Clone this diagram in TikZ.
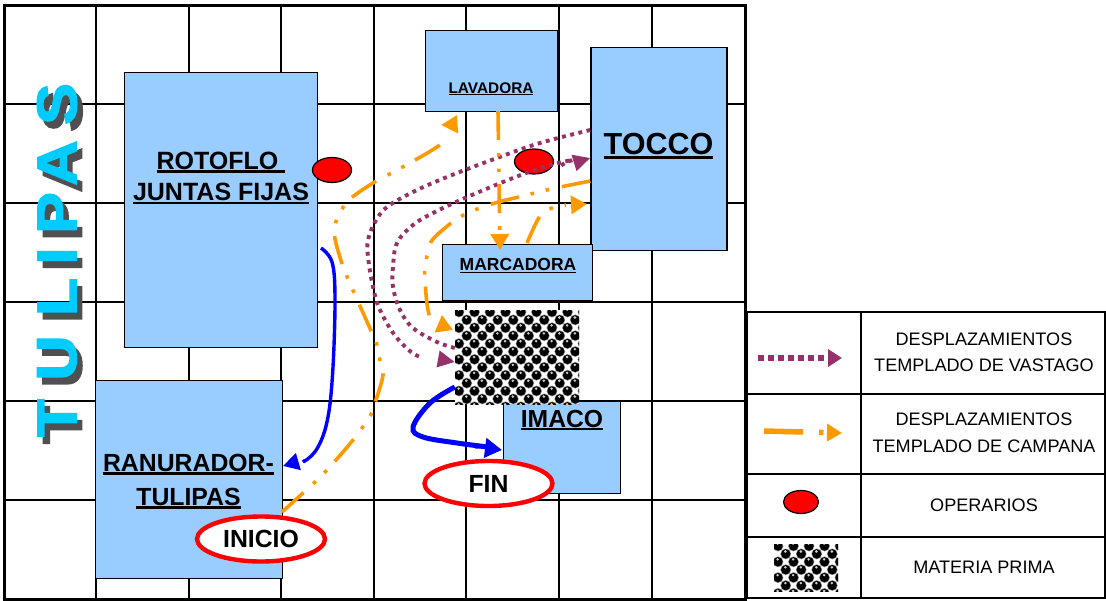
\documentclass[tikz,border=0pt]{standalone}
\usepackage{fontspec}
\setmainfont{Liberation Sans}
\newfontfamily\tulifont[FakeBold=2.6,FakeStretch=1.12]{Liberation Sans Bold}
\usetikzlibrary{arrows.meta,shapes.geometric,bending}
\definecolor{machine}{RGB}{153,204,255}
\definecolor{vastago}{RGB}{150,50,105}
\definecolor{campana}{RGB}{255,153,0}
\definecolor{tulipa}{RGB}{0,204,255}
\definecolor{tulishadow}{RGB}{80,80,80}
\tikzset{
  gridline/.style={line width=2.8pt,black},
  legendline/.style={line width=2.8pt,black},
  machinebox/.style={draw=black,line width=1.4pt,fill=machine,inner sep=0pt,anchor=north west},
  machinelabel/.style={font=\bfseries\fontsize{#1}{#1}\selectfont,align=center,text=black,inner sep=0pt},
  vastagopath/.style={draw=vastago,line width=3.9pt,dash pattern=on 3.9pt off 4.5pt},
  vastagotip/.style={-{Triangle[length=17pt,width=16pt,fill=vastago]}},
  campanapath/.style={draw=campana,line width=3.6pt,dash pattern=on 29pt off 13pt on 3.6pt off 12pt on 3.6pt off 12pt},
  campanatip/.style={-{Triangle[length=16pt,width=18pt,fill=campana]}},
  bluepath/.style={draw=blue,line cap=butt},
  operario/.style={ellipse,draw=black,line width=1.2pt,fill=red,minimum width=39pt,minimum height=25pt,inner sep=0pt},
  milestone/.style={ellipse,draw=red,line width=4.4pt,fill=white,minimum width=128pt,minimum height=45pt,inner sep=0pt,font=\bfseries\fontsize{24.8}{24.8}\selectfont},
  legendtext/.style={font=\fontsize{18.1}{26.5}\selectfont,align=center,inner sep=0pt},
  tuli/.style={font=\tulifont\fontsize{56}{56}\selectfont,inner sep=0pt,rotate=90,anchor=center},
}
\newcommand{\ulab}[1]{\setbox0\hbox{#1}\leavevmode\rlap{\rule[-0.13em]{\wd0}{0.1em}}\box0}
\newcommand{\balltex}[4]{% x0,y0,x1,y1
  \fill[white] (#1,#2) rectangle (#3,#4);
  \begin{scope}
    \clip (#1,#2) rectangle (#3,#4);
    \foreach \i in {0,...,8}{
      \foreach \j in {0,...,6}{
        \pgfmathsetmacro{\xx}{#1+4+\i*15.5}
        \pgfmathsetmacro{\yy}{#2+2+\j*15.8}
        \foreach \dx/\dy in {0/0,7.75/7.9}{
          \fill[white!55!black] (\xx+\dx,\yy+\dy) circle (5.4pt);
          \fill[black] (\xx+\dx,\yy+\dy) circle (4.7pt);
          \fill[white!80!black] (\xx+\dx-0.4,\yy+\dy-2.4) circle (1.4pt);
        }
      }
    }
  \end{scope}
}
\begin{document}
\begin{tikzpicture}[x=1pt,y=-1pt]
\useasboundingbox (0,0) rectangle (1106,600);
\fill[white] (0,0) rectangle (1106,600);
% grid
\foreach \gx in {96,189,281,374,466,559,652}{\draw[gridline] (\gx,5) -- (\gx,599);}
\foreach \gy in {104,203,302,401,500}{\draw[gridline] (4,\gy) -- (745,\gy);}
\draw[line width=3pt] (4,5) rectangle (745,599);
% tulipas title
\foreach \txt/\yp in {S/104,A/163,P/213,I/256,L/297,U/358,T/418}{
  \node[tuli,text=tulishadow] at (62.5,\yp+7) {\txt};
  \node[tuli,text=tulipa] at (57,\yp) {\txt};
}
% machines
\node[machinebox,minimum width=193pt,minimum height=275pt] (rotoflo) at (124,71.7) {};
\node[machinelabel=25] (rotoflolab) at (221,178) {\ulab{ROTOFLO }\\[6.5pt]\ulab{JUNTAS FIJAS}};
\node[machinebox,minimum width=187pt,minimum height=198pt] (ranurador) at (94.5,380) {};
\node[machinelabel=24.8] (ranlab) at (188.5,481.5) {\ulab{RANURADOR-}\\[9.5pt]\ulab{TULIPAS}};
\node[machinebox,minimum width=132pt,minimum height=81pt] (lavadora) at (424.5,29.5) {};
\node[machinelabel=15.4] (lavlab) at (491,89) {\ulab{LAVADORA}};
\node[machinebox,minimum width=136pt,minimum height=203pt] (tocco) at (590.3,46.5) {};
\node[machinelabel=30.5] (toccolab) at (658.5,146) {\ulab{TOCCO}};
\node[machinebox,minimum width=150pt,minimum height=56pt] (marcadora) at (442,244) {};
\node[machinelabel=17.5] (marclab) at (518,266) {\ulab{MARCADORA}};
\node[machinebox,minimum width=117pt,minimum height=92pt] (imaco) at (502.5,400.5) {};
\node[machinelabel=24.7] (imalab) at (562,420) {\ulab{IMACO}};
% raw material
\balltex{455}{310}{579}{404}
\node[minimum width=124pt,minimum height=94pt,inner sep=0pt] (rawmat) at (517,357) {};
% operators
\node[operario] (op1) at (332,170) {};
\node[operario] (op2) at (534,161.5) {};
% named ends
\coordinate (tocA) at (tocco.west |- 0,130);
\coordinate (tocB) at (tocco.west |- 0,158);
\coordinate (tocC) at (tocco.west |- 0,181);
\coordinate (matA) at (rawmat.west |- 0,362);
\coordinate (matB) at (rawmat.west |- 0,348);
\coordinate (matC) at (453,330);
\coordinate (matD) at (rawmat.west |- 0,387);
\coordinate (ranA) at (282,512);
\coordinate (ranB) at (283,466);
\coordinate (lavA) at (457,115);
\coordinate (lavB) at (498,111);
\coordinate (marA) at (500,250);
\coordinate (marB) at (527,243);
\coordinate (tocD) at (587,204);
\coordinate (rotA) at (321,248);
\coordinate (imaA) at (502,450);
% vastago paths
\draw[vastagopath,vastagotip] plot[smooth,tension=0.6] coordinates {(tocA) (540,143) (497,158) (447,177) (413,192) (387,207) (375,222) (368,240) (368,257) (373,287) (380,310) (397,338) (420,357) (matA)};
\draw[vastagopath,vastagotip] plot[smooth,tension=0.6] coordinates {(matB) (437,342) (413,328) (400,310) (393,287) (393,267) (397,243) (413,225) (433,213) (465,198) (513,178) (547,166) (577,159) (tocB)};
% campana paths
\draw[campanapath,campanatip] plot[smooth,tension=0.6] coordinates {(ranA) (303,493) (325,472) (353,440) (370,416) (375,403) (383,375) (380,361) (377,345) (372,333) (360,306) (348,279) (343,267) (335,239) (335,225) (341,211) (350,199) (373,183) (399,169) (437,147) (446,137) (lavA)};
\draw[campanapath,campanatip] plot[smooth,tension=0.6] coordinates {(tocC) (551,189) (523,196) (495,203) (467,213) (455,220) (433,239) (428,252) (425,267) (425,281) (428,310) (434,323) (matC)};
\draw[campanapath,campanatip] (lavB) -- (marA);
\draw[campanapath,campanatip] plot[smooth,tension=0.6] coordinates {(marB) (540,216) (552,208) (566,205) (tocD)};
% blue paths
\draw[bluepath,line width=3.4pt,-{Triangle[length=16pt,width=17pt,fill=blue]}] plot[smooth,tension=0.6] coordinates {(rotA) (332,262) (335,297) (333,367) (328,417) (318,447) (303,462) (ranB)};
\draw[bluepath,line width=5pt,-{Triangle[length=17pt,width=19pt,fill=blue]}] plot[smooth,tension=0.6] coordinates {(matD) (430,403) (413,427) (423,437) (457,443) (487,447) (imaA)};
% start end
\node[milestone] (inicio) at (261,539) {INICIO};
\node[milestone] (fin) at (488.5,483.5) {FIN};
% legend
\draw[legendline] (747,312) rectangle (1105,598);
\draw[legendline] (861,312) -- (861,598);
\foreach \ly in {394,474,537}{\draw[legendline] (747,\ly) -- (1105,\ly);}
\node[legendtext] (l1) at (984,352.5) {DESPLAZAMIENTOS\\TEMPLADO DE VASTAGO};
\node[legendtext] (l2) at (984,433) {DESPLAZAMIENTOS\\TEMPLADO DE CAMPANA};
\node[legendtext] (l3) at (984,505) {OPERARIOS};
\node[legendtext] (l4) at (984,567) {MATERIA PRIMA};
\coordinate (lva) at (758,358);\coordinate (lvb) at (842,358);
\draw[draw=vastago,line width=5.5pt,dash pattern=on 6pt off 4pt,-{Triangle[length=14pt,width=17pt,fill=vastago]}] (lva) -- (lvb);
\coordinate (lca) at (764,431);\coordinate (lcb) at (842,433);
\draw[draw=campana,line width=5.5pt,dash pattern=on 39pt off 16pt on 4.5pt off 99pt,-{Triangle[length=15pt,width=17pt,fill=campana]}] (lca) -- (lcb);
\node[operario,minimum width=35pt,minimum height=23pt] (lop) at (801,502) {};
\balltex{774}{544}{838}{591}
\end{tikzpicture}
\end{document}
